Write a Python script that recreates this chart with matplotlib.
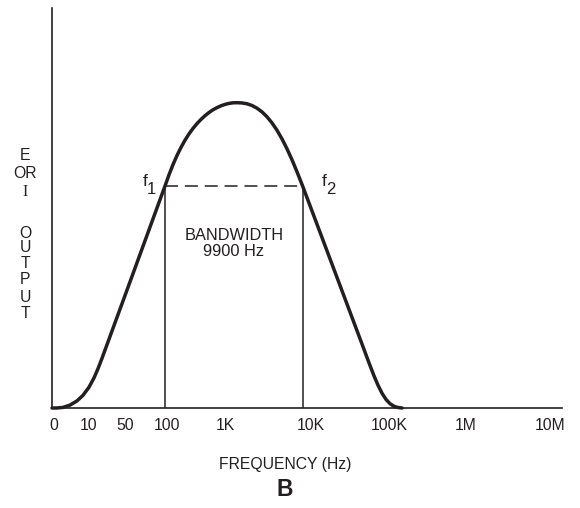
import matplotlib
matplotlib.use("Agg")
import matplotlib.pyplot as plt

# ---- data (diagram units: x along the frequency axis, y = output level) ----
tick_positions = [2, 37, 73, 115, 173, 259, 337, 414, 498]
tick_labels = ["0", "10", "50", "100", "1K", "10K", "100K", "1M", "10M"]

curve_x = [0, 5, 11, 18, 25, 31, 37, 42, 46, 50, 80, 113, 117, 121, 125, 129,
           133, 137, 141, 145, 149, 153, 157, 161, 165, 169, 173, 177, 181,
           185, 190, 195, 200, 205, 210, 215, 220, 225, 230, 235, 240, 245,
           251, 281, 310, 314, 318, 322, 326, 330, 334, 338, 342, 346, 350]
curve_y = [0, 0, 0.6, 2.9, 7.1, 12.7, 20.8, 30.1, 39.3, 49.7, 131.6, 222,
           233.2, 243.4, 252.5, 260.6, 267.8, 274.1, 279.6, 284.4, 288.6,
           292.3, 295.5, 298.2, 300.4, 302.2, 303.6, 304.6, 305.2, 305.3,
           305.06, 304.2, 302.5, 299.8, 296.1, 291.2, 285.1, 277.75, 269.1,
           259.2, 248.2, 236.2, 221, 141.2, 64, 53.2, 42.5, 32.2, 22.8, 14.8,
           8.6, 4.3, 1.7, 0.5, 0]

f_x = [113, 251]          # f1, f2 positions
f_names = ["1", "2"]
cutoff_level = 222
bandwidth_text = ["BANDWIDTH", "9900 Hz"]
ylabel_letters = ["E", "OR", "I", "O", "U", "T", "P", "U", "T"]
ylabel_py = [155, 173, 192, 233, 248, 264, 280, 297, 314]

INK = "#231f20"
W, H = 580, 508
plt.rcParams["font.family"] = ["Liberation Sans", "DejaVu Sans"]

fig = plt.figure(figsize=(W / 100, H / 100), dpi=100)
ax = fig.add_axes([52 / W, 1 - 408 / H, (562 - 52) / W, (408 - 8) / H])
ax.set_xlim(0, 510)
ax.set_ylim(0, 400)
for s in ["top", "right"]:
    ax.spines[s].set_visible(False)
for s in ["left", "bottom"]:
    ax.spines[s].set_color(INK)
    ax.spines[s].set_linewidth(1.2)
ax.set_yticks([])
ax.set_xticks(tick_positions)
ax.set_xticklabels(tick_labels, fontsize=11.3, color=INK)
ax.tick_params(axis="x", length=0, pad=7.5)

# curve
ax.plot(curve_x, curve_y, color=INK, lw=2.5, solid_capstyle="round",
        solid_joinstyle="round", clip_on=False)

# vertical markers and dashed level
ax.vlines(f_x, 0, cutoff_level, color=INK, lw=1.1)
ax.hlines(cutoff_level, f_x[0], f_x[1], color=INK, lw=1.1,
          linestyles=(0, (8.5, 4.5)))

# f labels (f with a lowered digit)
f_off = [-20, 21]
sub_off = [-13.5, 28]
for x, n, dx, ds in zip(f_x, f_names, f_off, sub_off):
    ax.text(x + dx, cutoff_level + 4, "f", fontsize=12.5, color=INK,
            ha="center", va="center")
    ax.text(x + ds, cutoff_level - 3, n, fontsize=12, color=INK,
            ha="center", va="center")

# bandwidth text
mid = (f_x[0] + f_x[1]) / 2
ax.text(mid, 408 - 235, bandwidth_text[0], fontsize=11.8, color=INK,
        ha="center", va="center")
ax.text(mid, 408 - 251, bandwidth_text[1], fontsize=11.8, color=INK,
        ha="center", va="center")

# y label letters
for letter, py in zip(ylabel_letters, ylabel_py):
    fam = ["Liberation Serif"] if letter == "I" else ["Liberation Sans"]
    fig.text(25 / W, 1 - py / H, letter, fontsize=11.3, color=INK,
             ha="center", va="center", family=fam)

# x label and panel letter
fig.text(285 / W, 1 - 464 / H, "FREQUENCY (Hz)", fontsize=11.3, color=INK,
         ha="center", va="center")
fig.text(285 / W, 1 - 490 / H, "B", fontsize=16.5, fontweight="bold",
         color=INK, ha="center", va="center")

fig.savefig("out.png", dpi=100)
